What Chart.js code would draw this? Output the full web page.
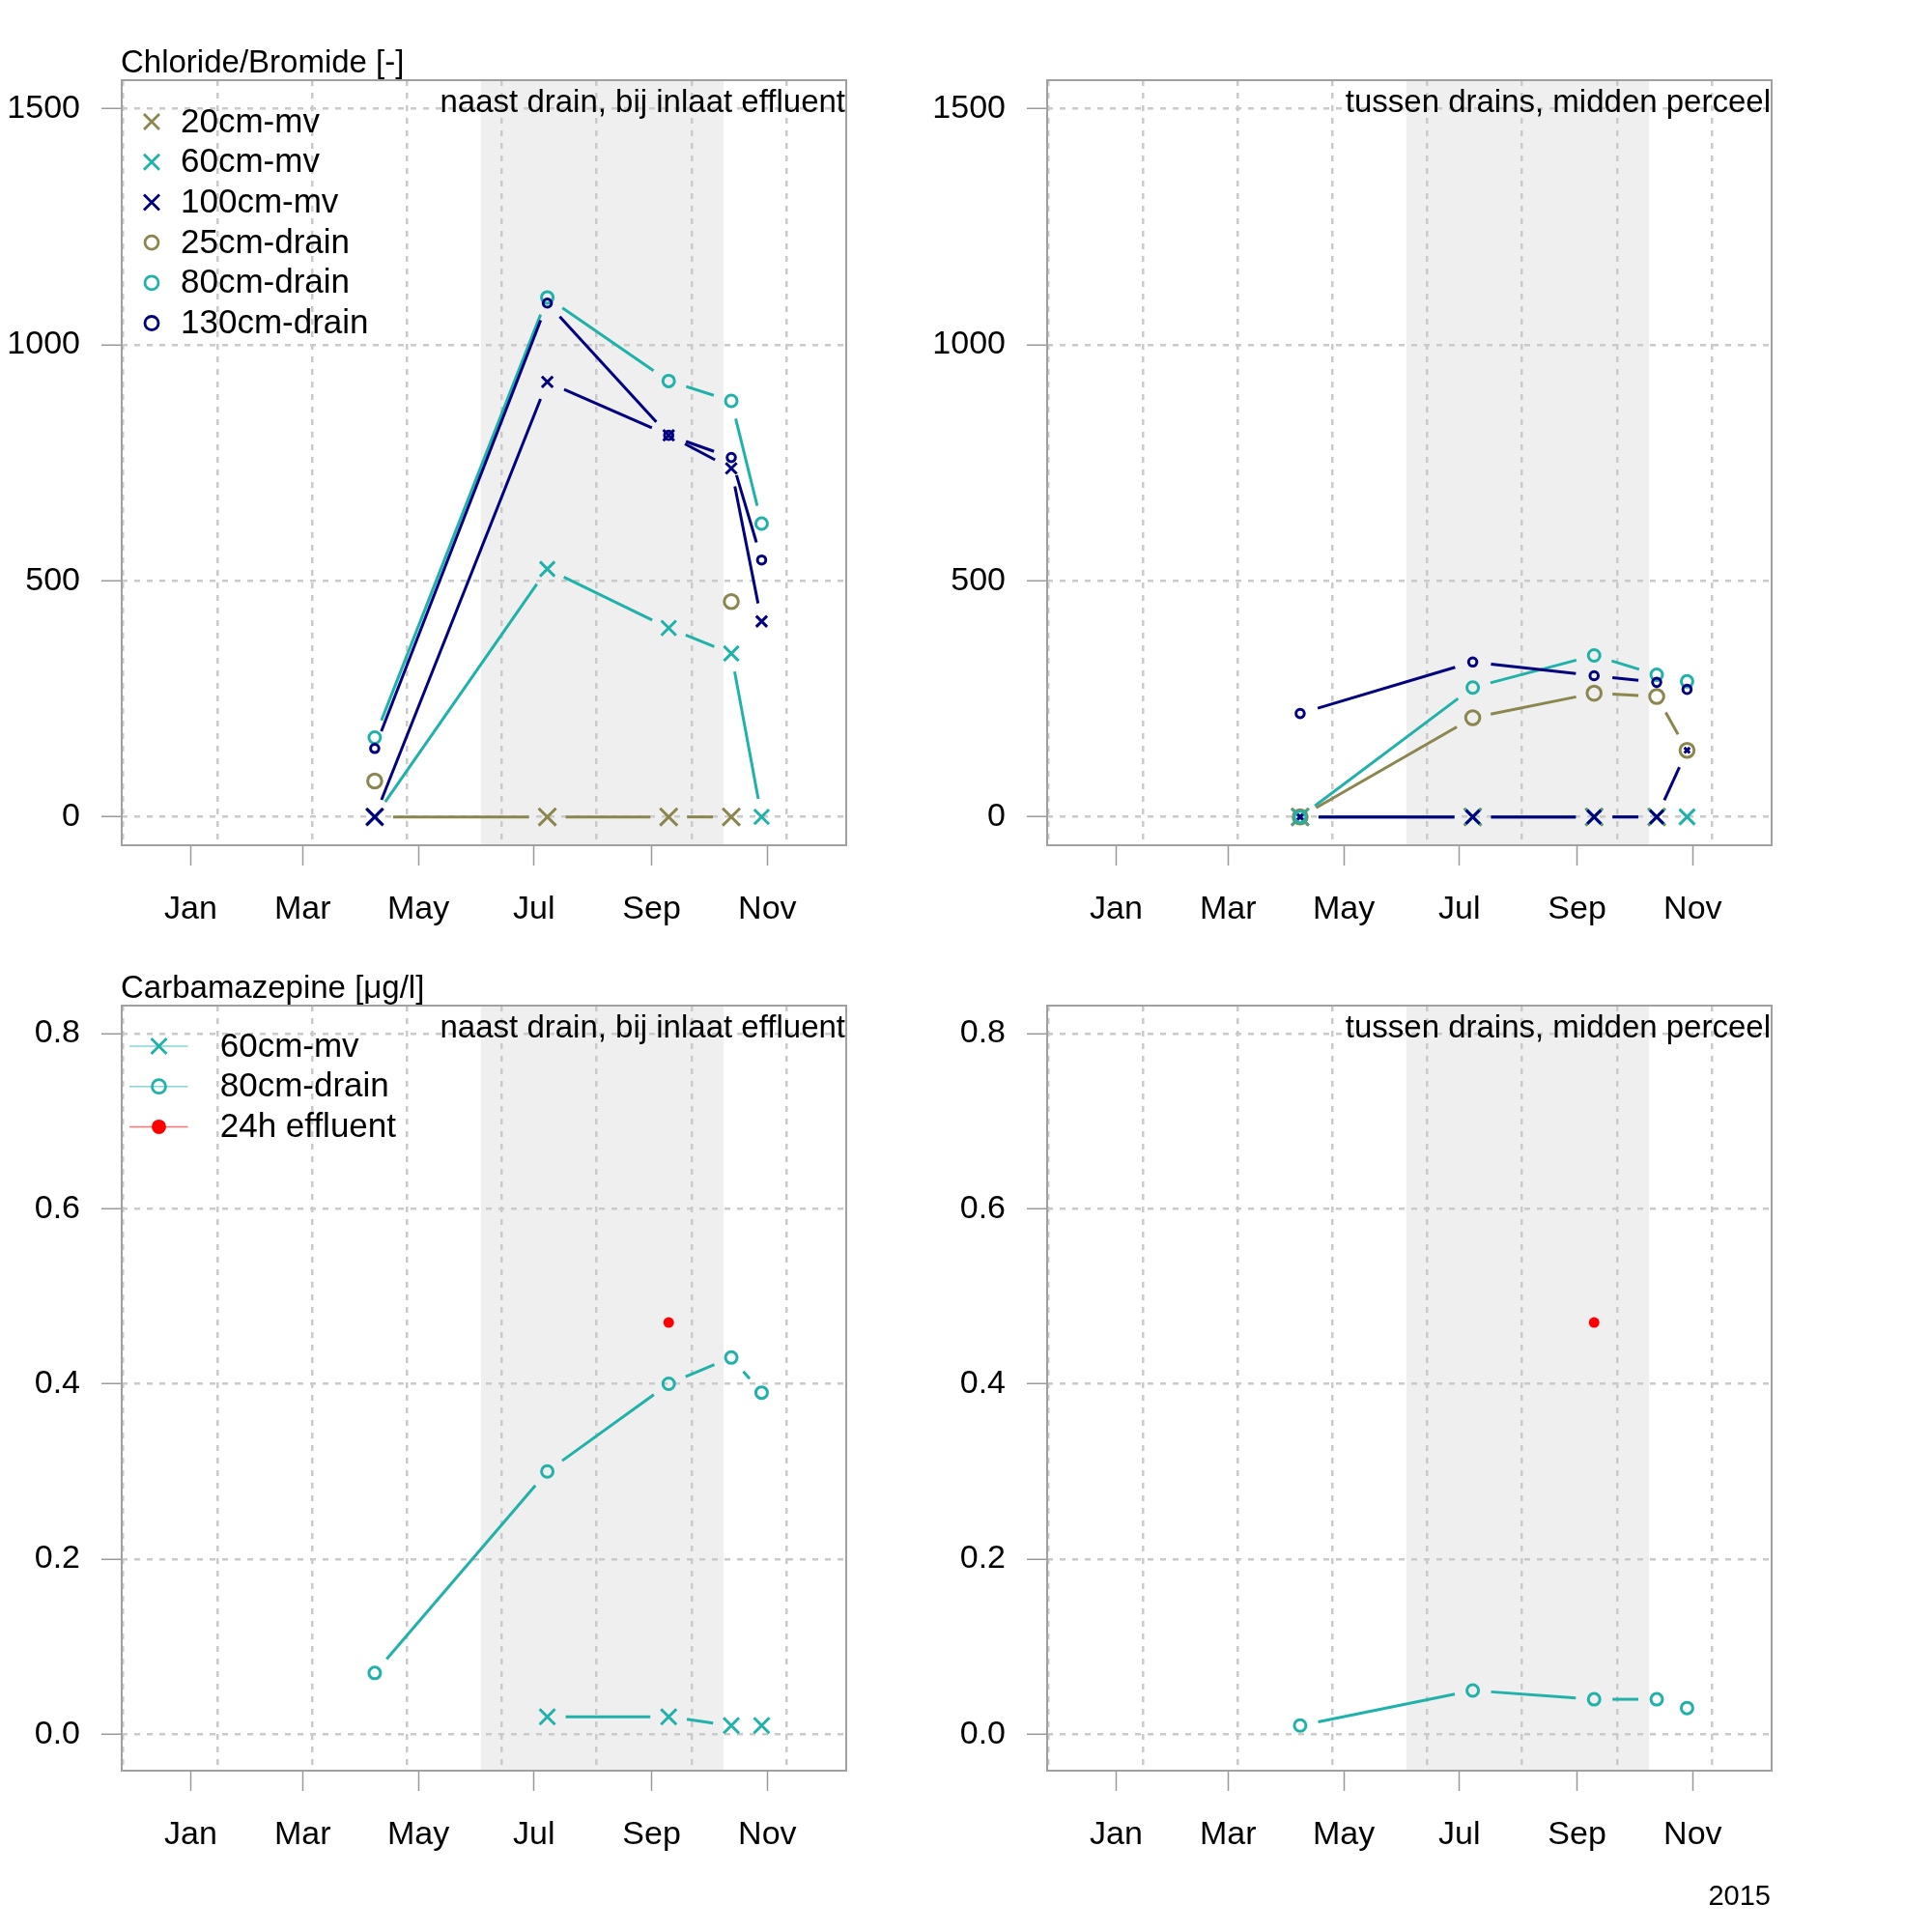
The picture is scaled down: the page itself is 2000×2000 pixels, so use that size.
<!DOCTYPE html>
<html>
<head>
<meta charset="utf-8">
<script src="https://cdn.jsdelivr.net/npm/chart.js@4.4.1/dist/chart.umd.min.js"></script>
<style>
  html, body { margin: 0; padding: 0; background: #fff; }
  #wrap { position: relative; width: 2000px; height: 2000px; }
  canvas { position: absolute; }
</style>
</head>
<body>
<div id="wrap">
  <canvas id="tl" width="1000" height="1042" style="left:0px;top:0px"></canvas>
  <canvas id="tr" width="1000" height="1042" style="left:958px;top:0px"></canvas>
  <canvas id="bl" width="1000" height="1042" style="left:0px;top:958px"></canvas>
  <canvas id="br" width="1000" height="1042" style="left:958px;top:958px"></canvas>
</div>
<script>
// sampling dates (2015)
const sampleDates = ['2015-04-08', '2015-07-08', '2015-09-10', '2015-10-13', '2015-10-29'];
const effluentDates = ['2015-09-10'];

// x axis
const monthDates = ['2015-01-01', '2015-03-01', '2015-05-01', '2015-07-01', '2015-09-01', '2015-11-01'];
const monthLabels = ['Jan', 'Mar', 'May', 'Jul', 'Sep', 'Nov'];
const gridDates = ['2014-11-26', '2015-01-15', '2015-03-06', '2015-04-25', '2015-06-14', '2015-08-03', '2015-09-22', '2015-11-11'];
const shadeFrom = '2015-06-03';
const shadeTo = '2015-10-09';

// y axes
const clTicks = [0, 500, 1000, 1500];
const cbzTicks = [0, 0.2, 0.4, 0.6, 0.8];

// Chloride/Bromide, naast drain
const naastCl20mv = [0, 0, 0, 0, null];
const naastCl60mv = [0, 525, 400, 346, 0];
const naastCl100mv = [0, 921, 808, 738, 414];
const naastCl25drain = [76, null, null, 456, null];
const naastCl80drain = [168, 1100, 923, 881, 621];
const naastCl130drain = [145, 1088, 808, 761, 544];

// Chloride/Bromide, tussen drains
const tussenCl20mv = [0, 0, 0, 0, null];
const tussenCl60mv = [0, 0, 0, 0, 0];
const tussenCl100mv = [0, 0, 0, 0, 141];
const tussenCl25drain = [0, 210, 262, 255, 141];
const tussenCl80drain = [0, 274, 342, 301, 287];
const tussenCl130drain = [219, 328, 299, 285, 270];

// Carbamazepine
const naastCbz60mv = [null, 0.02, 0.02, 0.01, 0.01];
const naastCbz80drain = [0.07, 0.30, 0.40, 0.43, 0.39];
const tussenCbz80drain = [0.01, 0.05, 0.04, 0.04, 0.03];
const effluentCbz = [0.47];

const OLIVE = '#8b864e', TEAL = '#20b2aa', NAVY = '#000080', RED = '#ff0000';
const FONT = "'Liberation Sans', Arial, Helvetica, sans-serif";
const GAP = 19; // R type="b": lines stop short of the symbols

function dayOf(s) {
  const p = s.split('-').map(Number);
  return (Date.UTC(p[0], p[1] - 1, p[2]) - Date.UTC(2015, 0, 1)) / 86400000;
}

// plot limits (R adds 4% on each side)
const xMin = -36.4, xMax = 345.6;

Chart.defaults.font.family = FONT;
Chart.defaults.color = '#000';

function gapDash(c) {
  const len = Math.hypot(c.p1.x - c.p0.x, c.p1.y - c.p0.y);
  if (len <= 2 * GAP) return [0, len + 10];
  return [0, GAP, len - 2 * GAP, GAP + 10];
}

function series(label, dates, values, color, style, radius) {
  return {
    label: label,
    data: dates.map((d, i) => ({ x: dayOf(d), y: values[i] })),
    borderColor: color,
    backgroundColor: color,
    borderWidth: 3,
    segment: { borderDash: gapDash },
    pointStyle: style,
    pointRadius: radius,
    pointBorderWidth: 3,
    pointBorderColor: color,
    pointBackgroundColor: style === 'circle' ? 'rgba(0,0,0,0)' : color,
    spanGaps: false,
    tension: 0
  };
}

const shadePlugin = {
  id: 'shade',
  beforeDraw(chart) {
    const { ctx, chartArea: a } = chart;
    const x = chart.scales.x;
    const x0 = x.getPixelForValue(dayOf(shadeFrom));
    const x1 = x.getPixelForValue(dayOf(shadeTo));
    ctx.save();
    ctx.fillStyle = '#efefef';
    ctx.fillRect(x0, a.top, x1 - x0, a.bottom - a.top);
    ctx.restore();
  }
};

const boxPlugin = {
  id: 'box',
  afterDatasetsDraw(chart) {
    const { ctx, chartArea: a } = chart;
    ctx.save();
    ctx.strokeStyle = '#a0a0a0';
    ctx.lineWidth = 2;
    ctx.strokeRect(a.left, a.top, a.right - a.left, a.bottom - a.top);
    ctx.restore();
  }
};

function marker(ctx, style, x, y, size, filled) {
  ctx.beginPath();
  if (style === 'crossRot') {
    ctx.moveTo(x - size, y - size); ctx.lineTo(x + size, y + size);
    ctx.moveTo(x - size, y + size); ctx.lineTo(x + size, y - size);
    ctx.stroke();
  } else {
    ctx.arc(x, y, size, 0, Math.PI * 2);
    if (filled) ctx.fill(); else ctx.stroke();
  }
}

// legend drawn R-style inside the plot region
const legendPlugin = {
  id: 'rlegend',
  afterDraw(chart, args, o) {
    if (!o.show) return;
    const { ctx, chartArea: a } = chart;
    ctx.save();
    ctx.font = '35px ' + FONT;
    ctx.textBaseline = 'middle';
    ctx.textAlign = 'left';
    chart.data.datasets.forEach((ds, i) => {
      const y = a.top + o.top + i * o.step;
      const mx = a.left + o.markerX;
      if (o.lines) {
        ctx.strokeStyle = ds.borderColor;
        ctx.globalAlpha = 0.55;
        ctx.lineWidth = 1.5;
        ctx.beginPath();
        ctx.moveTo(a.left + o.lineFrom, y);
        ctx.lineTo(a.left + o.lineTo, y);
        ctx.stroke();
        ctx.globalAlpha = 1;
      }
      ctx.strokeStyle = ds.borderColor;
      ctx.fillStyle = ds.borderColor;
      ctx.lineWidth = 2.8;
      const filled = ds.showLine === false;
      marker(ctx, ds.pointStyle, mx, y, ds.pointStyle === 'crossRot' ? 8 : (filled ? 7.5 : 7), filled);
      ctx.fillStyle = '#000';
      ctx.fillText(ds.label, a.left + o.textX, y + 1);
    });
    ctx.restore();
  }
};

const textPlugin = {
  id: 'rtext',
  afterDraw(chart, args, o) {
    const { ctx, chartArea: a } = chart;
    ctx.save();
    ctx.fillStyle = '#000';
    ctx.textBaseline = 'alphabetic';
    if (o.title) {
      ctx.font = '33px ' + FONT;
      ctx.textAlign = 'left';
      ctx.fillText(o.title, a.left - 1, a.top - 8);
    }
    if (o.panel) {
      ctx.font = '33px ' + FONT;
      ctx.textAlign = 'right';
      ctx.fillText(o.panel, a.right - 1, a.top + 32.5);
    }
    if (o.year) {
      ctx.font = '29px ' + FONT;
      ctx.textAlign = 'right';
      ctx.fillText(o.year, a.right - 1, a.bottom + 139);
    }
    ctx.restore();
  }
};

function panel(id, cfg) {
  return new Chart(document.getElementById(id), {
    type: 'line',
    data: { datasets: cfg.datasets.map((d, i) => Object.assign(d, { order: -i })) },
    options: {
      responsive: false,
      animation: false,
      devicePixelRatio: 1,
      events: [],
      layout: { padding: { left: 0, top: 83, right: 124, bottom: 42 } },
      plugins: {
        legend: { display: false },
        tooltip: { enabled: false },
        rlegend: cfg.legend || { show: false },
        rtext: cfg.text
      },
      scales: {
        x: {
          type: 'linear', position: 'bottom', min: xMin, max: xMax,
          afterBuildTicks: s => { s.ticks = monthDates.map(d => ({ value: dayOf(d) })); },
          afterFit: s => { s.height = 125; },
          ticks: { callback: (v, i) => monthLabels[i], font: { size: 34 }, color: '#000', padding: 25, maxRotation: 0, autoSkip: false },
          grid: { drawOnChartArea: false, drawTicks: true, tickLength: 21, tickColor: '#9a9a9a', tickWidth: 1.5 },
          border: { display: false }
        },
        xg: {
          type: 'linear', axis: 'x', position: 'bottom', min: xMin, max: xMax,
          afterBuildTicks: s => { s.ticks = gridDates.map(d => ({ value: dayOf(d) })); },
          afterFit: s => { s.height = 0; },
          ticks: { display: false },
          grid: { drawOnChartArea: true, drawTicks: false, color: '#cacaca', lineWidth: 2.5 },
          border: { display: false, dash: [6, 7] }
        },
        y: {
          type: 'linear', position: 'left', min: cfg.yMin, max: cfg.yMax,
          afterBuildTicks: s => { s.ticks = cfg.yTicks.map(v => ({ value: v })); },
          afterFit: s => { s.width = 126; },
          ticks: { callback: cfg.yFmt, font: { size: 34 }, color: '#000', padding: 22, autoSkip: false },
          grid: { drawOnChartArea: true, drawTicks: true, tickLength: 21, color: '#cacaca', lineWidth: 2.5,
                  tickColor: '#9a9a9a', tickWidth: 1.5, tickBorderDash: [] },
          border: { display: false, dash: [6, 7] }
        }
      }
    },
    plugins: [shadePlugin, boxPlugin, legendPlugin, textPlugin]
  });
}

const clFmt = v => String(v);
const cbzFmt = v => v.toFixed(1);

panel('tl', {
  yMin: -60, yMax: 1560, yTicks: clTicks, yFmt: clFmt,
  text: { title: 'Chloride/Bromide [-]', panel: 'naast drain, bij inlaat effluent' },
  legend: { show: true, top: 43, step: 41.7, markerX: 31, textX: 61, lines: false },
  datasets: [
    series('20cm-mv', sampleDates, naastCl20mv, OLIVE, 'crossRot', 12.7),
    series('60cm-mv', sampleDates, naastCl60mv, TEAL, 'crossRot', 10.8),
    series('100cm-mv', sampleDates, naastCl100mv, NAVY, 'crossRot', [12, 8, 8, 8, 8]),
    series('25cm-drain', sampleDates, naastCl25drain, OLIVE, 'circle', 7.3),
    series('80cm-drain', sampleDates, naastCl80drain, TEAL, 'circle', 6),
    series('130cm-drain', sampleDates, naastCl130drain, NAVY, 'circle', 4.3)
  ]
});

panel('tr', {
  yMin: -60, yMax: 1560, yTicks: clTicks, yFmt: clFmt,
  text: { panel: 'tussen drains, midden perceel' },
  datasets: [
    series('20cm-mv', sampleDates, tussenCl20mv, OLIVE, 'crossRot', 12.7),
    series('60cm-mv', sampleDates, tussenCl60mv, TEAL, 'crossRot', 11.3),
    series('100cm-mv', sampleDates, tussenCl100mv, NAVY, 'crossRot', [4, 10, 10, 10, 4]),
    series('25cm-drain', sampleDates, tussenCl25drain, OLIVE, 'circle', 7.3),
    series('80cm-drain', sampleDates, tussenCl80drain, TEAL, 'circle', 6),
    series('130cm-drain', sampleDates, tussenCl130drain, NAVY, 'circle', 4.3)
  ]
});

const effluentBL = series('24h effluent', effluentDates, effluentCbz, RED, 'circle', 5.5);
effluentBL.showLine = false;
effluentBL.pointBackgroundColor = RED;
effluentBL.pointBorderWidth = 0;

panel('bl', {
  yMin: -0.0415, yMax: 0.8317, yTicks: cbzTicks, yFmt: cbzFmt,
  text: { title: 'Carbamazepine [\u03bcg/l]', panel: 'naast drain, bij inlaat effluent' },
  legend: { show: true, top: 42, step: 41.7, markerX: 38.5, lineFrom: 8, lineTo: 68.5, textX: 101.7, lines: true },
  datasets: [
    series('60cm-mv', sampleDates, naastCbz60mv, TEAL, 'crossRot', 11.3),
    series('80cm-drain', sampleDates, naastCbz80drain, TEAL, 'circle', 6),
    effluentBL
  ]
});

const effluentBR = series('24h effluent', effluentDates, effluentCbz, RED, 'circle', 5.5);
effluentBR.showLine = false;
effluentBR.pointBackgroundColor = RED;
effluentBR.pointBorderWidth = 0;

panel('br', {
  yMin: -0.0415, yMax: 0.8317, yTicks: cbzTicks, yFmt: cbzFmt,
  text: { panel: 'tussen drains, midden perceel', year: '2015' },
  datasets: [
    series('80cm-drain', sampleDates, tussenCbz80drain, TEAL, 'circle', 6),
    effluentBR
  ]
});
</script>
</body>
</html>
